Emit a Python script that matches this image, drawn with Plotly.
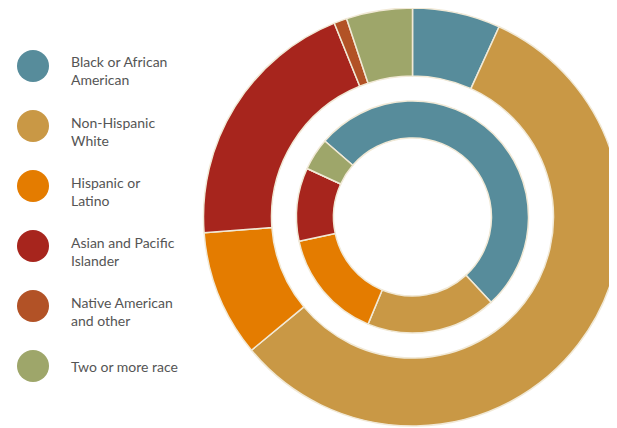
import plotly.graph_objects as go

categories = ["Black or African American", "Non-Hispanic White", "Hispanic or Latino",
              "Asian and Pacific Islander", "Native American and other", "Two or more race"]
legend_labels = ["Black or African<br>American", "Non-Hispanic<br>White", "Hispanic or<br>Latino",
                 "Asian and Pacific<br>Islander", "Native American<br>and other", "Two or more race"]
colors = ["#578C9B", "#C99845", "#E47C00", "#A7251D", "#B25226", "#9EA66A"]
outer_values = [6.8, 57.2, 9.8, 20.1, 1.0, 5.1]
inner_values = [51.8, 18.1, 15.4, 10.2, 0.0, 4.5]

W, H = 617, 428
OFF = 8  # page body margin
cx, cy = 412.5 - OFF, 217 - OFF  # pie centre in figure px (from top)
r_out = cy
r_in = 116

fig = go.Figure()
line = dict(color="#F1E9D6", width=1.5)
fig.add_trace(go.Pie(
    labels=categories, values=outer_values, sort=False, direction="clockwise", rotation=0,
    hole=141 / r_out, marker=dict(colors=colors, line=line), textinfo="none",
    hoverinfo="label+percent", showlegend=False,
    domain=dict(x=[(cx - r_out) / W, (cx + r_out) / W], y=[(H - cy - r_out) / H, 1]),
))
fig.add_trace(go.Pie(
    labels=categories, values=inner_values, sort=False, direction="clockwise", rotation=-49.1,
    hole=79 / r_in, marker=dict(colors=colors, line=line), textinfo="none",
    hoverinfo="label+percent", showlegend=False,
    domain=dict(x=[(cx - r_in) / W, (cx + r_in) / W], y=[(H - cy - r_in) / H, (H - cy + r_in) / H]),
))

shapes, annotations = [], []
for i, (lab, col) in enumerate(zip(legend_labels, colors)):
    yc = 66 + 60 * i - OFF
    xc = 33 - OFF
    shapes.append(dict(type="circle", xref="paper", yref="paper",
                       x0=(xc - 16) / W, x1=(xc + 16) / W,
                       y0=(H - yc - 16) / H, y1=(H - yc + 16) / H,
                       fillcolor=col, line=dict(width=0)))
    ty = yc + 5 if "<br>" in lab else yc
    annotations.append(dict(text=lab, xref="paper", yref="paper", x=(69 - OFF) / W, y=(H - ty) / H,
                            xanchor="left", yanchor="middle", align="left", showarrow=False,
                            font=dict(family="Lato", size=14, color="#555555")))

fig.update_layout(width=W, height=H, margin=dict(l=0, r=0, t=0, b=0),
                  paper_bgcolor="white", plot_bgcolor="white",
                  shapes=shapes, annotations=annotations)
fig.write_html("out.html")
